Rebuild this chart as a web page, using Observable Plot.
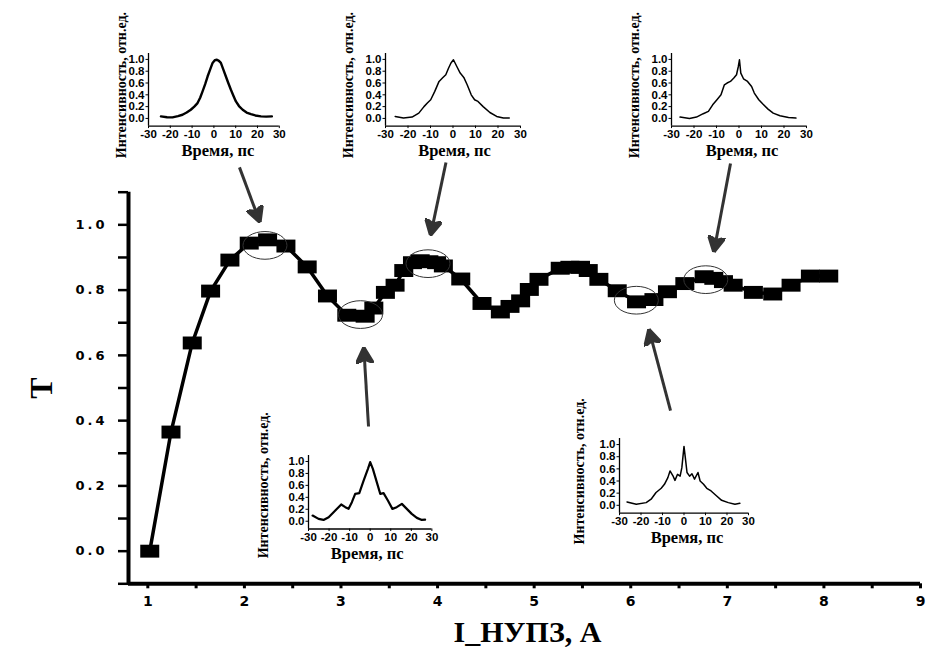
<!DOCTYPE html>
<html><head><meta charset="utf-8">
<script src="https://cdn.jsdelivr.net/npm/d3@7"></script>
<script src="https://cdn.jsdelivr.net/npm/@observablehq/plot@0.6"></script>
<style>
html,body{margin:0;padding:0;background:#fff;overflow:hidden}
#wrap{position:relative;width:926px;height:652px}
#wrap svg{position:absolute}
#main [aria-label="y-axis tick label"] text{letter-spacing:3px}
</style></head><body><div id="wrap"></div>
<script>
// ---- main series: current (A) vs transmission T ----
const currentA = [1.02,1.24,1.46,1.65,1.85,2.05,2.24,2.43,2.65,2.86,3.06,3.25,3.34,3.46,3.56,3.65,3.74,3.82,3.91,3.99,4.06,4.24,4.46,4.65,4.75,4.86,4.95,5.05,5.27,5.37,5.48,5.56,5.67,5.86,6.06,6.24,6.38,6.56,6.76,6.86,6.96,7.06,7.27,7.47,7.66,7.86,8.05];
const transT  = [0.0,0.365,0.638,0.797,0.892,0.944,0.954,0.935,0.871,0.782,0.723,0.72,0.745,0.793,0.815,0.86,0.884,0.89,0.887,0.884,0.874,0.834,0.759,0.733,0.75,0.767,0.802,0.833,0.867,0.87,0.87,0.86,0.833,0.798,0.764,0.771,0.795,0.82,0.841,0.836,0.826,0.815,0.793,0.788,0.815,0.843,0.843];

// ---- axis ticks ----
const xTickValues = [1,2,3,4,5,6,7,8,9];
const xMinorValues = [1,1.5,2,2.5,3,3.5,4,4.5,5,5.5,6,6.5,7,7.5,8,8.5,9];
const yTickValues = [0,0.2,0.4,0.6,0.8,1.0];
const yMinorValues = [-0.1,0,0.1,0.2,0.3,0.4,0.5,0.6,0.7,0.8,0.9,1.0,1.1];
const xDomain = [0.8, 9];
const yDomain = [-0.1, 1.1];

// ---- highlighted regions (ellipse centres) ----
const ellipseX = [2.213,3.202,3.901,6.058,6.777];
const ellipseT = [0.937,0.725,0.881,0.769,0.832];

// ---- arrows (from inset to ellipse) ----
const arrowFromX = [1.949,4.087,7.033,3.285,6.412];
const arrowFromT = [1.176,1.191,1.188,0.382,0.431];
const arrowToX   = [2.162,3.927,6.860,3.236,6.187];
const arrowToT   = [1.007,0.967,0.916,0.625,0.681];

// ---- inset pulse shapes [time ps, intensity] ----
const pulse1 = [[-24.3,0.034],[-21.5,0.02],[-19,0.017],[-16.5,0.04],[-14.4,0.062],[-12.5,0.1],[-10.6,0.147],[-9,0.2],[-7.5,0.26],[-6.3,0.35],[-5.2,0.458],[-4,0.58],[-2.9,0.71],[-1.7,0.83],[-0.6,0.94],[0.4,0.985],[1.4,0.994],[2.3,0.975],[3.2,0.94],[4.3,0.83],[5.5,0.71],[6.6,0.6],[7.8,0.486],[9,0.38],[10.1,0.288],[11.5,0.21],[13.2,0.147],[15,0.1],[17,0.073],[19,0.05],[21.6,0.034],[24,0.03],[26.6,0.034]];
const pulse2 = [[-25.7,0.034],[-22,0.006],[-18.2,0.023],[-15.2,0.09],[-12.9,0.2],[-11.4,0.26],[-9.9,0.316],[-8.1,0.458],[-6.2,0.627],[-4.7,0.684],[-3.2,0.74],[-2,0.85],[-0.9,0.94],[0.2,0.994],[1.7,0.88],[3.2,0.768],[4.8,0.695],[6.3,0.57],[8.1,0.4],[9.6,0.316],[11.1,0.288],[13.4,0.2],[16.4,0.1],[19.4,0.034],[22.4,0.006],[25,0.006]];
const pulse3 = [[-26.2,0.023],[-22,0.0],[-18.9,0.023],[-15.9,0.08],[-13.6,0.12],[-11.7,0.23],[-9.8,0.316],[-8,0.4],[-6.5,0.57],[-5.3,0.6],[-3.8,0.627],[-2.3,0.684],[-1.1,0.74],[-0.3,0.88],[0.2,0.994],[0.8,0.768],[2,0.672],[3.8,0.627],[5.6,0.54],[6.8,0.43],[8.8,0.316],[10.6,0.243],[12.9,0.158],[15.2,0.09],[18.2,0.045],[22,0.017],[25.3,0.006]];
const pulse4 = [[-28,0.095],[-25.1,0.039],[-22.7,0.022],[-20.2,0.067],[-17.8,0.15],[-15.4,0.235],[-14.1,0.28],[-12.1,0.235],[-10.5,0.207],[-8.9,0.318],[-7.3,0.458],[-5.3,0.47],[-3.2,0.68],[-1.1,0.877],[0,0.99],[1.3,0.877],[3.2,0.654],[4.9,0.458],[6.5,0.47],[8.6,0.346],[10.8,0.207],[12.9,0.235],[15.4,0.29],[17.8,0.207],[20.2,0.123],[22.7,0.056],[25.1,0.022],[26.7,0.028]];
const pulse5 = [[-26.5,0.055],[-22.2,0.016],[-17.6,0.044],[-15.3,0.1],[-13,0.21],[-10.6,0.28],[-9.1,0.346],[-7.5,0.456],[-6.5,0.566],[-5.2,0.49],[-4.2,0.41],[-3,0.51],[-1.8,0.48],[-1,0.62],[-0.4,0.83],[0,0.97],[0.6,0.79],[1.4,0.54],[2.6,0.48],[3.7,0.52],[4.9,0.43],[6.5,0.54],[7.5,0.4],[9.1,0.346],[10.6,0.28],[12.6,0.236],[15.2,0.154],[17.5,0.082],[20.6,0.044],[23.7,0.016],[26,0.033]];
const insetXTicks = [-30,-20,-10,0,10,20,30];
const insetYTicks = [0,0.2,0.4,0.6,0.8,1.0];
const insetXDomain = [-30, 30];
const insetYDomain = [-0.13, 1.1];

const xLabel = "I_НУПЗ, А";
const yLabel = "T";
const insetXLabel = "Время, пс";
const insetYLabel = "Интенсивность, отн.ед.";

// ---------------- build ----------------
const points = currentA.map((x, i) => ({x, t: transT[i]}));
const ellipses = ellipseX.map((x, i) => ({x, t: ellipseT[i]}));
const arrows = arrowFromX.map((x, i) => ({x1: x, y1: arrowFromT[i], x2: arrowToX[i], y2: arrowToT[i]}));

const SERIF = "'Liberation Serif', 'Times New Roman', serif";
const SANS = "'DejaVu Sans', sans-serif";

const rectSymbol = {draw(ctx, size) { const r = Math.sqrt(size / Math.PI); const w = 2 * r, h = 1.36 * r; ctx.rect(-w / 2, -h / 2, w, h); }};
const ellipseSymbol = {draw(ctx, size) {
  const rx = Math.sqrt(size / Math.PI), ry = rx * 0.63, k = 0.5523;
  ctx.moveTo(rx, 0);
  ctx.bezierCurveTo(rx, k * ry, k * rx, ry, 0, ry);
  ctx.bezierCurveTo(-k * rx, ry, -rx, k * ry, -rx, 0);
  ctx.bezierCurveTo(-rx, -k * ry, -k * rx, -ry, 0, -ry);
  ctx.bezierCurveTo(k * rx, -ry, rx, -k * ry, rx, 0);
  ctx.closePath();
}};
function filledHead(color, context) {
  const ns = "http://www.w3.org/2000/svg";
  const doc = (context && context.document) || document;
  const m = doc.createElementNS(ns, "marker");
  m.setAttribute("viewBox", "-16 -9 16 18");
  m.setAttribute("markerWidth", 16);
  m.setAttribute("markerHeight", 18);
  m.setAttribute("markerUnits", "userSpaceOnUse");
  m.setAttribute("orient", "auto");
  m.setAttribute("refX", 0);
  m.setAttribute("refY", 0);
  const p = doc.createElementNS(ns, "path");
  p.setAttribute("d", "M0,0L-16,-8.5L-12,0L-16,8.5Z");
  p.setAttribute("fill", color);
  m.appendChild(p);
  return m;
}

function arrowMark() {
  try {
    return Plot.link(arrows, {x1: "x1", y1: "y1", x2: "x2", y2: "y2", stroke: "#333", strokeWidth: 3, markerEnd: filledHead});
  } catch (e) {
    return Plot.arrow(arrows, {x1: "x1", y1: "y1", x2: "x2", y2: "y2", stroke: "#333", strokeWidth: 3, headLength: 14, headAngle: 60});
  }
}

const W = 926, H = 652;
const mainSvg = Plot.plot({
  width: W, height: H,
  marginLeft: 128, marginRight: 6, marginTop: 191.7, marginBottom: 68.7,
  x: {domain: xDomain, label: null},
  y: {domain: yDomain, label: null},
  style: {fontFamily: SANS, fontWeight: "bold", color: "#000", background: "transparent"},
  marks: [
    Plot.axisY({ticks: yMinorValues, tickSize: 10, strokeWidth: 2.5, fill: "none", label: null}),
    Plot.axisY({ticks: yTickValues, tickSize: 0, tickPadding: 21, tickFormat: d3.format(".1f"), fontSize: 13, label: null}),
    Plot.axisX({ticks: xMinorValues, tickSize: 5, strokeWidth: 3, fill: "none", label: null}),
    Plot.axisX({ticks: xTickValues, tickSize: 0, tickPadding: 12, tickFormat: d3.format("d"), fontSize: 14, label: null}),
    Plot.ruleX([xDomain[0]], {strokeWidth: 4}),
    Plot.ruleY([yDomain[0]], {strokeWidth: 4}),
    Plot.line(points, {x: "x", y: "t", stroke: "#000", strokeWidth: 3.5}),
    Plot.dot(points, {x: "x", y: "t", symbol: rectSymbol, r: 9.5, fill: "#000", stroke: "none"}),
    Plot.dot(ellipses, {x: "x", y: "t", symbol: ellipseSymbol, r: 22, fill: "none", stroke: "#333", strokeWidth: 1}),
    arrowMark(),
    Plot.text([yLabel], {frameAnchor: "left", textAnchor: "middle", lineAnchor: "middle", dx: -87, rotate: -90, fontFamily: SERIF, fontSize: 32, fontWeight: "bold", fill: "#000"}),
    Plot.text([xLabel], {frameAnchor: "bottom", textAnchor: "middle", lineAnchor: "middle", dx: 3, dy: 49, fontFamily: SERIF, fontSize: 30, fontWeight: "bold", fill: "#000"})
  ]
});
mainSvg.id = "main";
mainSvg.style.left = "0px"; mainSvg.style.top = "0px";
document.getElementById("wrap").appendChild(mainSvg);

// inset layouts (page px of plotting frame)
const insetLayouts = [
  {pulse: pulse1, left: 147.5, right: 278.3, top: 53.4, bottom: 126, lw: 2.4, tdx: 4, ylx: -27, yly: -4.7},
  {pulse: pulse2, left: 385, right: 520, top: 53.4, bottom: 126, lw: 1.5, tdx: 1.5, ylx: -37, yly: -4.7},
  {pulse: pulse3, left: 671, right: 806, top: 53.4, bottom: 126, lw: 1.5, tdx: 3, ylx: -37, yly: -4.7},
  {pulse: pulse4, left: 308.3, right: 431.7, top: 455, bottom: 528.5, lw: 2.2, tdx: -3, ylx: -45, yly: -7},
  {pulse: pulse5, left: 619, right: 748, top: 438.2, bottom: 512.9, lw: 1.5, tdx: 3, ylx: -40, yly: -4.5}
];

for (const L of insetLayouts) {
  const mL = 60, mR = 20, mT = 15, mB = 50;
  const w = L.right - L.left, h = L.bottom - L.top;
  const svg = Plot.plot({
    width: mL + w + mR, height: mT + h + mB,
    marginLeft: mL, marginRight: mR, marginTop: mT, marginBottom: mB,
    x: {domain: insetXDomain, label: null},
    y: {domain: insetYDomain, label: null},
    style: {fontFamily: "'Liberation Sans', Arial, sans-serif", fontWeight: "bold", color: "#000", background: "transparent", overflow: "visible"},
    marks: [
      Plot.axisY({ticks: insetYTicks, tickSize: 2.5, tickPadding: 1.5, tickFormat: d3.format(".1f"), fontSize: 11.5, label: null}),
      Plot.axisX({ticks: insetXTicks, tickSize: 2.5, tickPadding: 1, tickFormat: d => String(d), fontSize: 11.5, label: null}),
      Plot.ruleX([insetXDomain[0]], {strokeWidth: 1.3}),
      Plot.ruleY([insetYDomain[0]], {strokeWidth: 1.3}),
      Plot.line(L.pulse, {x: d => d[0], y: d => d[1], stroke: "#000", strokeWidth: L.lw}),
      Plot.text([insetXLabel], {frameAnchor: "bottom", textAnchor: "middle", lineAnchor: "middle", dx: L.tdx, dy: 25, fontFamily: SERIF, fontSize: 16.5, fontWeight: "bold", fill: "#000"}),
      Plot.text([insetYLabel], {frameAnchor: "left", textAnchor: "middle", lineAnchor: "middle", dx: L.ylx, dy: L.yly, rotate: -90, fontFamily: SERIF, fontSize: 14, fontWeight: "bold", fill: "#000"})
    ]
  });
  svg.style.left = (L.left - mL) + "px";
  svg.style.top = (L.top - mT) + "px";
  svg.style.overflow = "visible";
  svg.style.background = "transparent";
  document.getElementById("wrap").appendChild(svg);
}
</script></body></html>
